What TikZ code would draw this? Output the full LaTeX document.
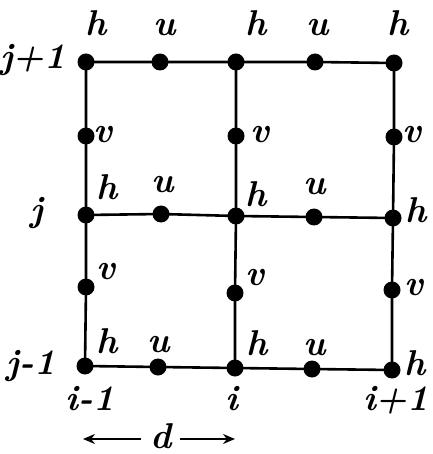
\documentclass[tikz,border=0pt]{standalone}
\usepackage{fontspec}
\usetikzlibrary{arrows.meta}
\begin{document}
\begin{tikzpicture}[x=1bp,y=-1bp,
  dot/.style={circle,fill=black,inner sep=0pt,minimum size=17bp},
  lbl/.style={font=\fontsize{36}{40}\selectfont\bfseries\itshape,inner sep=0pt,anchor=base},
  gridline/.style={line width=2.6bp},
  darrow/.style={line width=2bp,-{Stealth[length=12bp,width=10bp]}}]
\useasboundingbox (0,0) rectangle (433,454);
% nodes
\node[dot] (h00) at (86,62) {};
\node[dot] (u01) at (160,62) {};
\node[dot] (h02) at (236,62) {};
\node[dot] (u03) at (315,62) {};
\node[dot] (h04) at (394,63) {};
\node[dot] (v10) at (86,136) {};
\node[dot] (v12) at (236,136) {};
\node[dot] (v14) at (394,137) {};
\node[dot] (h20) at (86,215) {};
\node[dot] (u21) at (161,214) {};
\node[dot] (h22) at (236,216) {};
\node[dot] (u23) at (314,217) {};
\node[dot] (h24) at (393,218) {};
\node[dot] (v30) at (86,287) {};
\node[dot] (v32) at (235,293) {};
\node[dot] (v34) at (392,290) {};
\node[dot] (h40) at (85,366) {};
\node[dot] (u41) at (158,367) {};
\node[dot] (h42) at (235,368) {};
\node[dot] (u43) at (312,369) {};
\node[dot] (h44) at (392,370) {};
% lines
\draw[gridline] (h00.center) -- (u01.center) -- (h02.center) -- (u03.center) -- (h04.center);
\draw[gridline] (h20.center) -- (u21.center) -- (h22.center) -- (u23.center) -- (h24.center);
\draw[gridline] (h40.center) -- (u41.center) -- (h42.center) -- (u43.center) -- (h44.center);
\draw[gridline] (h00.center) -- (v10.center) -- (h20.center) -- (v30.center) -- (h40.center);
\draw[gridline] (h02.center) -- (v12.center) -- (h22.center) -- (v32.center) -- (h42.center);
\draw[gridline] (h04.center) -- (v14.center) -- (h24.center) -- (v34.center) -- (h44.center);
% top labels
\node[lbl] (lh00) at (96,36) {h};
\node[lbl] (lu01) at (165,36) {u};
\node[lbl] (lh02) at (256,36) {h};
\node[lbl] (lu03) at (318,36) {u};
\node[lbl] (lh04) at (398,36) {h};
\node[lbl] (lv10) at (103,143) {v};
\node[lbl] (lv12) at (260,143) {v};
\node[lbl] (lv14) at (412,143) {v};
\node[lbl] (lh20) at (107,200) {h};
\node[lbl] (lu21) at (163,193) {u};
\node[lbl] (lh22) at (256,207) {h};
\node[lbl] (lu23) at (315,195) {u};
\node[lbl] (lh24) at (416,223) {h};
\node[lbl] (lv30) at (106,279) {v};
\node[lbl] (lv32) at (255,285) {v};
\node[lbl] (lv34) at (414,295) {v};
\node[lbl] (lh40) at (107,353) {h};
\node[lbl] (lu41) at (159,352) {u};
\node[lbl] (lh42) at (257,355) {h};
\node[lbl] (lu43) at (315,355) {u};
\node[lbl] (lh44) at (415,375) {h};
% row / column indices
\node[lbl,anchor=base east] (jp) at (66,69) {j+1};
\node[lbl,anchor=base east] (j0) at (43,222) {j};
\node[lbl,anchor=base east] (jm) at (56,374) {j-1};
\node[lbl] (im) at (90,410) {i-1};
\node[lbl] (i0) at (232,410) {i};
\node[lbl] (ip) at (396,410) {i+1};
% spacing arrow
\node[lbl] (dd) at (161,448) {d};
\coordinate (al) at (83,439);
\coordinate (ar) at (235,439);
\draw[darrow] (dd.west |- al) ++(-9,0) coordinate (a1) -- (al);
\draw[darrow] (dd.east |- ar) ++(8,0) coordinate (a2) -- (ar);
\end{tikzpicture}
\end{document}
